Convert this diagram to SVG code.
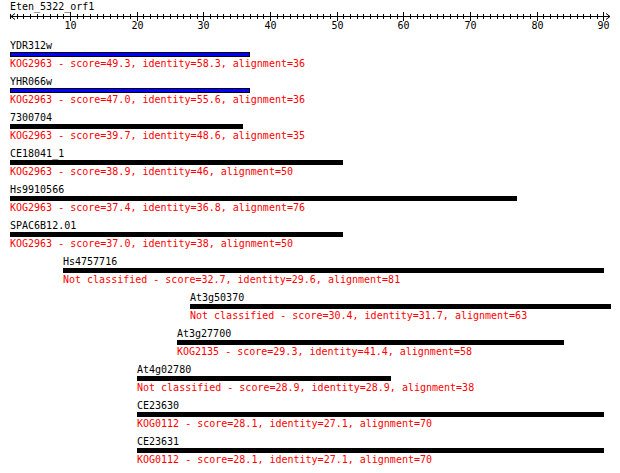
<svg xmlns="http://www.w3.org/2000/svg" width="620" height="473" viewBox="0 0 620 473">
<style>
text{font-family:"DejaVu Sans Mono","Liberation Mono",monospace;font-size:10px}
.lbl{fill:#000}
.info{fill:#ff0000}
.num{fill:#000;text-anchor:middle}
.bar{fill:#000}
.blue{fill:#0000ff;stroke:#000;stroke-width:1}
.ax{stroke:#000;stroke-width:1;fill:none}
</style>
<rect width="620" height="473" fill="#fff"/>
<g id="axis">
<text class="lbl" x="10" y="10">Eten_5322_orf1</text>
<path class="ax" d="M10 16.5H610M15 13.5L11 16.5L15 19.5M606 13.5L610 16.5L606 19.5"/>
<path class="ax" d="M10.5 14v5M17.5 14v5M23.5 14v5M30.5 14v5M37.5 14v5M43.5 14v5M50.5 14v5M57.5 14v5M63.5 14v5M77.5 14v5M83.5 14v5M90.5 14v5M97.5 14v5M103.5 14v5M110.5 14v5M117.5 14v5M123.5 14v5M130.5 14v5M143.5 14v5M150.5 14v5M157.5 14v5M163.5 14v5M170.5 14v5M177.5 14v5M183.5 14v5M190.5 14v5M197.5 14v5M210.5 14v5M217.5 14v5M223.5 14v5M230.5 14v5M237.5 14v5M243.5 14v5M250.5 14v5M257.5 14v5M263.5 14v5M277.5 14v5M283.5 14v5M290.5 14v5M297.5 14v5M303.5 14v5M310.5 14v5M317.5 14v5M323.5 14v5M330.5 14v5M343.5 14v5M350.5 14v5M357.5 14v5M363.5 14v5M370.5 14v5M377.5 14v5M383.5 14v5M390.5 14v5M397.5 14v5M410.5 14v5M417.5 14v5M423.5 14v5M430.5 14v5M437.5 14v5M443.5 14v5M450.5 14v5M457.5 14v5M463.5 14v5M477.5 14v5M483.5 14v5M490.5 14v5M497.5 14v5M503.5 14v5M510.5 14v5M517.5 14v5M523.5 14v5M530.5 14v5M543.5 14v5M550.5 14v5M557.5 14v5M563.5 14v5M570.5 14v5M577.5 14v5M583.5 14v5M590.5 14v5M597.5 14v5"/>
<path class="ax" d="M70.5 12v9M137.5 12v9M203.5 12v9M270.5 12v9M337.5 12v9M403.5 12v9M470.5 12v9M537.5 12v9M603.5 12v9"/>
<text class="num" x="70.5" y="29">10</text>
<text class="num" x="137.5" y="29">20</text>
<text class="num" x="203.5" y="29">30</text>
<text class="num" x="270.5" y="29">40</text>
<text class="num" x="337.5" y="29">50</text>
<text class="num" x="403.5" y="29">60</text>
<text class="num" x="470.5" y="29">70</text>
<text class="num" x="537.5" y="29">80</text>
<text class="num" x="603.5" y="29">90</text>
</g>
<g id="YDR312w">
<text class="lbl" x="10" y="49">YDR312w</text>
<rect class="blue" x="10.5" y="52.5" width="239" height="4"/>
<text class="info" x="10" y="67">KOG2963 - score=49.3, identity=58.3, alignment=36</text>
</g>
<g id="YHR066w">
<text class="lbl" x="10" y="85">YHR066w</text>
<rect class="blue" x="10.5" y="88.5" width="239" height="4"/>
<text class="info" x="10" y="103">KOG2963 - score=47.0, identity=55.6, alignment=36</text>
</g>
<g id="n7300704">
<text class="lbl" x="10" y="121">7300704</text>
<rect class="bar" x="10" y="124" width="233" height="5"/>
<text class="info" x="10" y="139">KOG2963 - score=39.7, identity=48.6, alignment=35</text>
</g>
<g id="CE18041_1">
<text class="lbl" x="10" y="157">CE18041_1</text>
<rect class="bar" x="10" y="160" width="333" height="5"/>
<text class="info" x="10" y="175">KOG2963 - score=38.9, identity=46, alignment=50</text>
</g>
<g id="Hs9910566">
<text class="lbl" x="10" y="193">Hs9910566</text>
<rect class="bar" x="10" y="196" width="507" height="5"/>
<text class="info" x="10" y="211">KOG2963 - score=37.4, identity=36.8, alignment=76</text>
</g>
<g id="SPAC6B12.01">
<text class="lbl" x="10" y="229">SPAC6B12.01</text>
<rect class="bar" x="10" y="232" width="333" height="5"/>
<text class="info" x="10" y="247">KOG2963 - score=37.0, identity=38, alignment=50</text>
</g>
<g id="Hs4757716">
<text class="lbl" x="63" y="265">Hs4757716</text>
<rect class="bar" x="63" y="268" width="541" height="5"/>
<text class="info" x="63" y="283">Not classified - score=32.7, identity=29.6, alignment=81</text>
</g>
<g id="At3g50370">
<text class="lbl" x="190" y="301">At3g50370</text>
<rect class="bar" x="190" y="304" width="421" height="5"/>
<text class="info" x="190" y="319">Not classified - score=30.4, identity=31.7, alignment=63</text>
</g>
<g id="At3g27700">
<text class="lbl" x="177" y="337">At3g27700</text>
<rect class="bar" x="177" y="340" width="387" height="5"/>
<text class="info" x="177" y="355">KOG2135 - score=29.3, identity=41.4, alignment=58</text>
</g>
<g id="At4g02780">
<text class="lbl" x="137" y="373">At4g02780</text>
<rect class="bar" x="137" y="376" width="254" height="5"/>
<text class="info" x="137" y="391">Not classified - score=28.9, identity=28.9, alignment=38</text>
</g>
<g id="CE23630">
<text class="lbl" x="137" y="409">CE23630</text>
<rect class="bar" x="137" y="412" width="467" height="5"/>
<text class="info" x="137" y="427">KOG0112 - score=28.1, identity=27.1, alignment=70</text>
</g>
<g id="CE23631">
<text class="lbl" x="137" y="445">CE23631</text>
<rect class="bar" x="137" y="448" width="467" height="5"/>
<text class="info" x="137" y="463">KOG0112 - score=28.1, identity=27.1, alignment=70</text>
</g>
</svg>
